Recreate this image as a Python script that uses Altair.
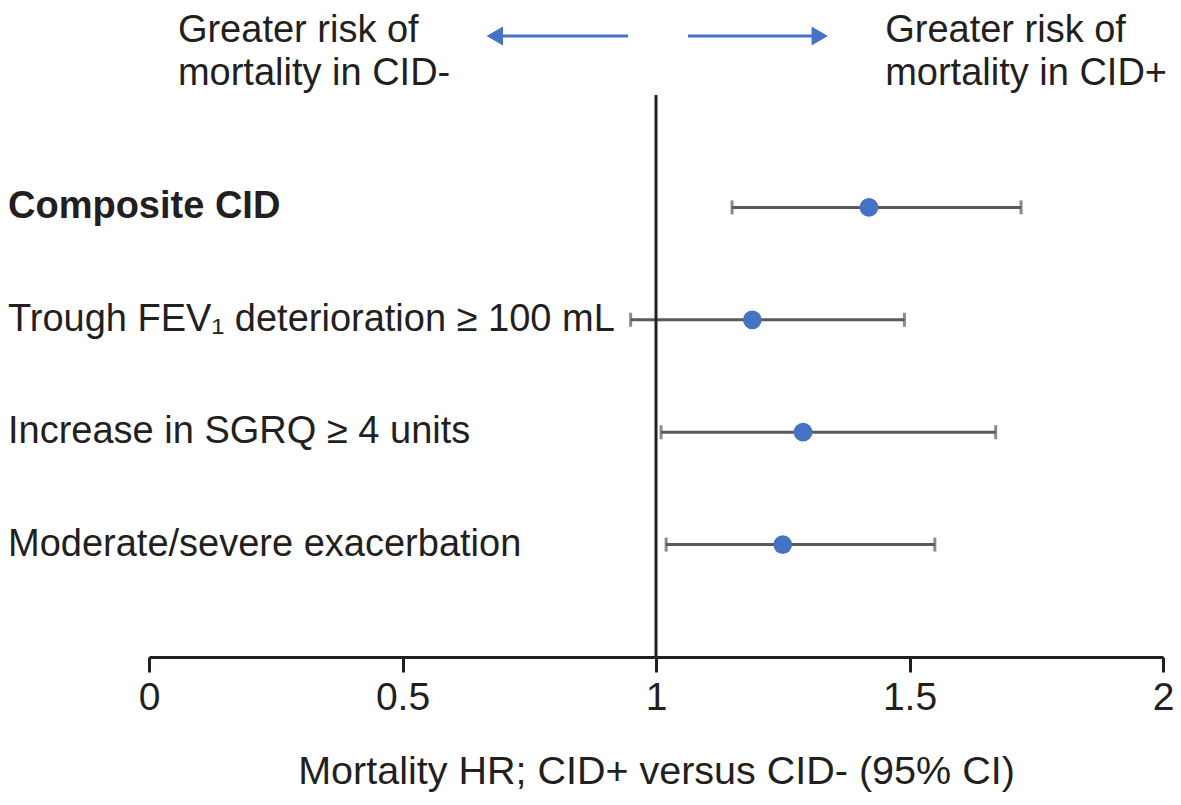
import altair as alt
import pandas as pd

# ---- data ----
labels = [
    "Composite CID",
    "Trough FEV\u2081 deterioration \u2265 100 mL",
    "Increase in SGRQ \u2265 4 units",
    "Moderate/severe exacerbation",
]
hr = [1.42, 1.19, 1.29, 1.25]
ci_low = [1.15, 0.95, 1.01, 1.02]
ci_high = [1.72, 1.49, 1.67, 1.55]
bold = [True, False, False, False]

x_ticks = [0, 0.5, 1, 1.5, 2]
x_title = "Mortality HR; CID+ versus CID- (95% CI)"
left_note = ["Greater risk of", "mortality in CID-"]
right_note = ["Greater risk of", "mortality in CID+"]

df = pd.DataFrame({"label": labels, "hr": hr, "lo": ci_low, "hi": ci_high, "bold": bold})

FONT = "Liberation Sans"
INK = "#231F20"
BLUE = "#4472C4"
GREY = "#5A5A5A"
W, H = 1014, 562
PAD_L = 141

xscale = alt.Scale(domain=[0, 2], nice=False, zero=False)
xaxis = alt.Axis(
    values=x_ticks, format="~g", grid=False,
    domainColor=INK, domainWidth=3, tickColor=INK, tickWidth=3, tickSize=15,
    labelFont=FONT, labelFontSize=39, labelColor=INK, labelPadding=6,
    labelFlush=False, labelOverlap=False,
    titleFont=FONT, titleFontSize=39.5, titleFontWeight="normal", titleColor=INK,
    titlePadding=35,
)


def X(field):
    return alt.X(field, scale=xscale, axis=xaxis, title=x_title)


Y = alt.Y("label:N", scale=alt.Scale(type="point", domain=labels, padding=1), axis=None)

base = alt.Chart(df)

errs = base.mark_rule(color=GREY, strokeWidth=3).encode(x=X("lo:Q"), x2="hi:Q", y=Y)
cap_lo = base.mark_tick(color=GREY, thickness=3, size=14, orient="vertical").encode(x=X("lo:Q"), y=Y)
cap_hi = base.mark_tick(color=GREY, thickness=3, size=14, orient="vertical").encode(x=X("hi:Q"), y=Y)

ref = alt.Chart(pd.DataFrame({"ref": [1]})).mark_rule(color=INK, strokeWidth=3).encode(x=X("ref:Q"))

pts = base.mark_circle(size=350, color=BLUE, opacity=1).encode(x=X("hr:Q"), y=Y)

lab_b = base.transform_filter("datum.bold").mark_text(
    align="left", baseline="middle", font=FONT, fontSize=38, fontWeight="bold", color=INK
).encode(x=alt.value(-PAD_L), y=Y, text="label:N")
lab_n = base.transform_filter("!datum.bold").mark_text(
    align="left", baseline="middle", font=FONT, fontSize=38, color=INK
).encode(x=alt.value(-PAD_L), y=Y, text="label:N")

one = alt.Chart(pd.DataFrame({"a": [0]}))


def note(text, xpos, ypos):
    return one.mark_text(text=text, align="left", baseline="alphabetic",
                         font=FONT, fontSize=38, color=INK).encode(
        x=alt.datum(xpos), y=alt.value(ypos))


notes = [
    note(left_note[0], 0.057, -53), note(left_note[1], 0.057, -10),
    note(right_note[0], 1.452, -53), note(right_note[1], 1.452, -10),
]

arr_l = one.mark_rule(color=BLUE, strokeWidth=3).encode(x=alt.datum(0.945), x2=alt.datum(0.69), y=alt.value(-59))
head_l = one.mark_point(shape="triangle-left", filled=True, size=360, color=BLUE, opacity=1).encode(
    x=alt.datum(0.682), y=alt.value(-59))
arr_r = one.mark_rule(color=BLUE, strokeWidth=3).encode(x=alt.datum(1.063), x2=alt.datum(1.315), y=alt.value(-59))
head_r = one.mark_point(shape="triangle-right", filled=True, size=360, color=BLUE, opacity=1).encode(
    x=alt.datum(1.323), y=alt.value(-59))

chart = alt.layer(
    errs, cap_lo, cap_hi, ref, pts, lab_b, lab_n, *notes, arr_l, head_l, arr_r, head_r
).properties(
    width=W, height=H,
    padding={"left": PAD_L, "top": 87, "right": 1165 - PAD_L - W, "bottom": 136},
    autosize=alt.AutoSizeParams(type="none"),
    background="white",
).configure_view(stroke=None)

chart.save("out.html", embed_options={"renderer": "svg", "actions": False})
